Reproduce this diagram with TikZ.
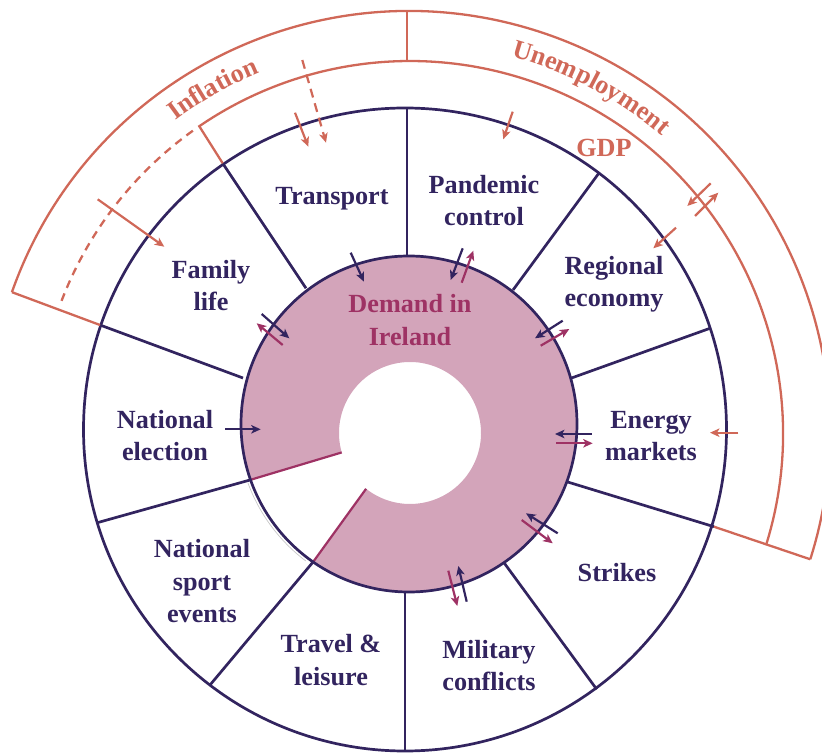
\documentclass[tikz,border=0pt]{standalone}
\usepackage{fontspec}
\setmainfont{Liberation Serif}
\usetikzlibrary{arrows.meta,calc,decorations.text}
\definecolor{navy}{RGB}{50,36,95}
\definecolor{coral}{RGB}{208,104,88}
\definecolor{pinkfill}{RGB}{211,164,186}
\definecolor{demandcol}{RGB}{158,50,100}
\newcommand{\lblfont}{\fontsize{26.2}{32.3}\selectfont\bfseries}
\begin{document}
\begin{tikzpicture}[x=1pt,y=1pt,
  navyline/.style={draw=navy, line width=2.7pt},
  coralline/.style={draw=coral, line width=2.3pt},
  lbl/.style={font=\lblfont, text=navy, align=center, inner sep=0pt},
  arrowbase/.style={line width=2.2pt, -{Stealth[length=9.5pt,width=8.5pt,inset=2.5pt]}},
  navyarr/.style={arrowbase, draw=navy},
  magarr/.style={arrowbase, draw=demandcol},
  corarr/.style={arrowbase, draw=coral},
  cordash/.style={arrowbase, draw=coral, dash pattern=on 9pt off 6pt}]
\useasboundingbox (0,0) rectangle (822,753);
\clip (0,0) rectangle (822,753);
% centres
\coordinate (navyC) at (405,323.5);
\coordinate (pinkC) at (409,329);
\coordinate (holeC) at (410,320);
\coordinate (corInC) at (410,319);
\coordinate (corOutC) at (409,321);
\coordinate (txtC) at (409,320);
% demand annulus
\coordinate (P1) at ($(pinkC)+(199.4:168pt)$);
\coordinate (P2) at ($(pinkC)+(-124.8:168pt)$);
\coordinate (H1) at ($(holeC)+(195.9:71pt)$);
\coordinate (H2) at ($(holeC)+(-128.2:71pt)$);
\fill[pinkfill] (P2) arc[start angle=-124.8, end angle=199.4, radius=168pt] -- (H1)
  arc[start angle=195.9, end angle=-128.2, radius=71pt] -- cycle;
\draw[demandcol, line width=2.2pt] (P1) -- (H1);
\draw[demandcol, line width=2.2pt] (P2) -- (H2);
\draw[black!22, line width=0.7pt] ($(pinkC)+(200:171.5pt)$) arc[start angle=200, end angle=233, radius=171.5pt];
\draw[navyline] (pinkC) circle[radius=168pt];
\draw[navyline] (navyC) circle[radius=321.5pt];
% radial separators
\draw[navyline] (407,497) -- (407,645);
\draw[navyline] (513,463) -- (599,580);
\draw[navyline] (570.7,374.7) -- (710,424.7);
\draw[navyline] (566.7,271.3) -- (714,226.3);
\draw[navyline] (504,190.3) -- (596.7,63.7);
\draw[navyline] (405,161) -- (405,2);
\draw[navyline] (313.3,191.3) -- (210,68);
\draw[navyline] (250,273) -- (97.3,230.3);
\draw[navyline] (243,375) -- (100,428);
\draw[navyline] (306,464.7) -- (222.7,589.7);
% outer bands
\draw[coralline] ($(corOutC)+(-17.6:421pt)$) coordinate (uEnd)
  arc[start angle=-17.6, end angle=160.6, radius=421pt] coordinate (iEnd);
\draw[coralline] (iEnd) -- (100,428);
\draw[coralline] (uEnd) -- (714,226.3);
\draw[coralline] ($(corInC)+(-17.1:373pt)$)
  arc[start angle=-17.1, end angle=124.4, radius=373pt] -- (222.7,589.7);
\draw[coralline, dash pattern=on 8pt off 6pt] ($(corInC)+(125.6:373pt)$)
  arc[start angle=125.6, end angle=160, radius=373pt];
\draw[coralline] (407,692) -- (407,742.5);
% band titles
\path[decorate, decoration={text along path, text align=center,
  text={|\lblfont\color{coral}|Inflation}}]
  ($(txtC)+(149.7:390pt)$) arc[start angle=149.7, end angle=89.7, radius=390pt];
\path[decorate, decoration={text along path, text align=center,
  text={|\lblfont\color{coral}|Unemployment}}]
  ($(txtC)+(102.2:390pt)$) arc[start angle=102.2, end angle=22.2, radius=390pt];
\node[lbl, text=coral] (gdp) at (604,605) {GDP};
% sector labels
\node[lbl] (transport) at (332,553.9) {Transport};
\node[lbl] (family) at (211,467.6) {Family\\life};
\node[lbl] (pandemic) at (484,552.6) {Pandemic\\control};
\node[lbl] (regional) at (614,468.7) {Regional\\economy};
\node[lbl, text=demandcol] (demand) at (410,433) {Demand in\\Ireland};
\node[lbl] (election) at (165,317.3) {National\\election};
\node[lbl] (energy) at (651,316.6) {Energy\\markets};
\node[lbl] (strikes) at (617,180.1) {Strikes};
\node[lbl] (military) at (489,87.3) {Military\\conflicts};
\node[lbl] (sport) at (202,171.8) {National\\sport\\events};
\node[lbl] (travel) at (331,93) {Travel \&\\leisure};
% arrow end points
\coordinate (c1a) at (97.7,553.7);  \coordinate (c1b) at (164.3,506.3);
\coordinate (c2a) at (302.3,693);   \coordinate (c2b) at (326,610.3);
\coordinate (c3a) at (295,640.3);   \coordinate (c3b) at (308.3,606.3);
\coordinate (c4a) at (512.7,641.3); \coordinate (c4b) at (503.3,613.7);
\coordinate (c5a) at (710.7,569.7); \coordinate (c5b) at (687.3,547);
\coordinate (c6a) at (695,537);     \coordinate (c6b) at (718.3,560.3);
\coordinate (c7a) at (676,525.3);   \coordinate (c7b) at (653.3,504.7);
\coordinate (c8a) at (738.3,320.3); \coordinate (c8b) at (710,320.3);
\coordinate (n1a) at (350.7,500.3); \coordinate (n1b) at (364,471.3);
\coordinate (n2a) at (462.7,504.7); \coordinate (n2b) at (450.7,473);
\coordinate (m2a) at (461.7,470.3); \coordinate (m2b) at (473.3,502.3);
\coordinate (n3a) at (562.7,432.3); \coordinate (n3b) at (535,414.7);
\coordinate (m3a) at (540.7,407.3); \coordinate (m3b) at (569.3,424);
\coordinate (n4a) at (591.7,319);   \coordinate (n4b) at (555,319);
\coordinate (m4a) at (556,309.7);   \coordinate (m4b) at (592.7,309.7);
\coordinate (n5a) at (557.7,219.7); \coordinate (n5b) at (526,239.7);
\coordinate (m5a) at (521.7,233);   \coordinate (m5b) at (552.7,209.7);
\coordinate (n6a) at (466.7,151.3); \coordinate (n6b) at (458.3,187);
\coordinate (m6a) at (448.3,182.3); \coordinate (m6b) at (457.3,147);
\coordinate (n7a) at (225,323.7);   \coordinate (n7b) at (260.7,323.7);
\coordinate (n8a) at (261.7,439);   \coordinate (n8b) at (289.3,414.7);
\coordinate (m8a) at (282.7,408);   \coordinate (m8b) at (256.7,429.7);
% arrows
\draw[corarr] (c1a) -- (c1b);
\draw[cordash] (c2a) -- (c2b);
\draw[corarr] (c3a) -- (c3b);
\draw[corarr] (c4a) -- (c4b);
\draw[corarr] (c5a) -- (c5b);
\draw[corarr] (c6a) -- (c6b);
\draw[corarr] (c7a) -- (c7b);
\draw[corarr] (c8a) -- (c8b);
\draw[navyarr] (n1a) -- (n1b);
\draw[navyarr] (n2a) -- (n2b);
\draw[magarr] (m2a) -- (m2b);
\draw[navyarr] (n3a) -- (n3b);
\draw[magarr] (m3a) -- (m3b);
\draw[navyarr] (n4a) -- (n4b);
\draw[magarr] (m4a) -- (m4b);
\draw[navyarr] (n5a) -- (n5b);
\draw[magarr] (m5a) -- (m5b);
\draw[navyarr] (n6a) -- (n6b);
\draw[magarr] (m6a) -- (m6b);
\draw[navyarr] (n7a) -- (n7b);
\draw[navyarr] (n8a) -- (n8b);
\draw[magarr] (m8a) -- (m8b);
\end{tikzpicture}
\end{document}
